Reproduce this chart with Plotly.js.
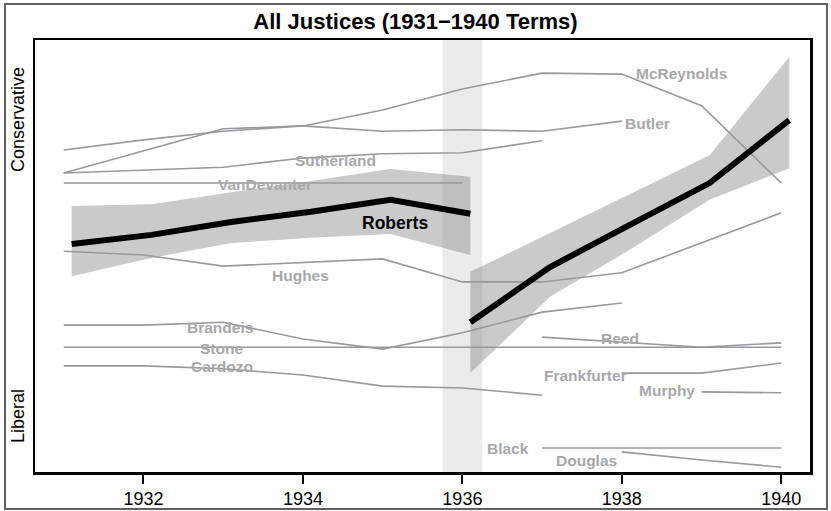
<!DOCTYPE html>
<html>
<head>
<meta charset="utf-8">
<script src="https://cdn.plot.ly/plotly-3.0.1.min.js"></script>
<style>html,body{margin:0;padding:0;background:#fff;}#chart{width:831px;height:511px;}</style>
</head>
<body>
<div id="chart"></div>
<script>
// ---- Data (ideal points) ----
var years = [1931, 1932, 1933, 1934, 1935, 1936, 1937, 1938, 1939, 1940];
var tickYears = [1932, 1934, 1936, 1938, 1940];

var mcreynoldsYears = [1931, 1932, 1933, 1934, 1935, 1936, 1937, 1938, 1939, 1940];
var mcreynolds = [1.73, 2.19, 2.65, 2.71, 3.04, 3.48, 3.81, 3.79, 3.13, 1.52];
var butlerYears = [1931, 1932, 1933, 1934, 1935, 1936, 1937, 1938];
var butler = [2.21, 2.42, 2.60, 2.71, 2.60, 2.63, 2.60, 2.81];
var sutherlandYears = [1931, 1932, 1933, 1934, 1935, 1936, 1937];
var sutherland = [1.73, 1.79, 1.85, 2.04, 2.13, 2.15, 2.40];
var vandevanterYears = [1931, 1932, 1933, 1934, 1935, 1936];
var vandevanter = [1.52, 1.52, 1.52, 1.52, 1.52, 1.52];
var hughesYears = [1931, 1932, 1933, 1934, 1935, 1936, 1937, 1938, 1939, 1940];
var hughes = [0.10, 0.02, -0.21, -0.13, -0.06, -0.54, -0.54, -0.35, 0.27, 0.90];
var brandeisYears = [1931, 1932, 1933, 1934, 1935, 1936, 1937, 1938];
var brandeis = [-1.44, -1.44, -1.38, -1.73, -1.94, -1.60, -1.17, -0.98];
var stoneYears = [1931, 1932, 1933, 1934, 1935, 1936, 1937, 1938, 1939, 1940];
var stone = [-1.90, -1.90, -1.90, -1.90, -1.90, -1.90, -1.90, -1.90, -1.90, -1.90];
var cardozoYears = [1931, 1932, 1933, 1934, 1935, 1936, 1937];
var cardozo = [-2.29, -2.29, -2.35, -2.48, -2.71, -2.75, -2.90];
var reedYears = [1937, 1938, 1939, 1940];
var reed = [-1.69, -1.79, -1.90, -1.81];
var frankfurterYears = [1938, 1939, 1940];
var frankfurter = [-2.44, -2.44, -2.23];
var murphyYears = [1939, 1940];
var murphy = [-2.83, -2.85];
var blackYears = [1937, 1938, 1939, 1940];
var black = [-4.0, -4.0, -4.0, -4.0];
var douglasYears = [1938, 1939, 1940];
var douglas = [-4.08, -4.25, -4.40];

// Roberts: two estimates (before / after the 1936 switch)
var robertsYearsA = [1931, 1932, 1933, 1934, 1935, 1936];
var robertsA = [0.25, 0.44, 0.71, 0.92, 1.17, 0.88];
var robertsUpperA = [1.04, 1.08, 1.33, 1.56, 1.81, 1.65];
var robertsLowerA = [-0.42, -0.04, 0.27, 0.38, 0.46, 0.02];
var robertsYearsB = [1936, 1937, 1938, 1939, 1940];
var robertsB = [-1.38, -0.23, 0.65, 1.52, 2.83];
var robertsUpperB = [-0.33, 0.48, 1.29, 2.10, 4.15];
var robertsLowerB = [-2.44, -0.85, 0.13, 1.17, 1.83];

var justiceNames = ["McReynolds", "Butler", "Sutherland", "VanDevanter", "Hughes", "Brandeis", "Stone", "Cardozo", "Reed", "Frankfurter", "Murphy", "Black", "Douglas"];
var justiceYears = [mcreynoldsYears, butlerYears, sutherlandYears, vandevanterYears, hughesYears, brandeisYears, stoneYears, cardozoYears, reedYears, frankfurterYears, murphyYears, blackYears, douglasYears];
var justiceValues = [mcreynolds, butler, sutherland, vandevanter, hughes, brandeis, stone, cardozo, reed, frankfurter, murphy, black, douglas];

// label anchor positions (year, ideal point)
var labelX = [1938.75, 1938.32, 1934.41, 1933.53, 1933.97, 1932.96, 1932.98, 1932.98, 1937.98, 1937.55, 1938.57, 1936.57, 1937.56];
var labelY = [3.81, 2.77, 2.0, 1.5, -0.40, -1.48, -1.92, -2.31, -1.71, -2.48, -2.81, -4.02, -4.25];

// ---- Styling ----
var FONT = "Liberation Sans, Arial, Helvetica, sans-serif";
var ROBERTS_SHIFT = 0.1;
var lineColor = "#98989d";
var labelColor = "#a7a7ab";
var bandColor = "rgba(128,128,128,0.42)";

function shift(arr, d) { return arr.map(function (v) { return v + d; }); }
function bandTrace(xs, up, lo) {
  return {
    x: xs.concat(xs.slice().reverse()),
    y: up.concat(lo.slice().reverse()),
    type: "scatter", mode: "lines", fill: "toself",
    fillcolor: bandColor, line: {width: 0}, hoverinfo: "skip", showlegend: false
  };
}

var traces = [];
var rxA = shift(robertsYearsA, ROBERTS_SHIFT);
var rxB = shift(robertsYearsB, ROBERTS_SHIFT);
traces.push(bandTrace(rxA, robertsUpperA, robertsLowerA));
traces.push(bandTrace(rxB, robertsUpperB, robertsLowerB));

for (var i = 0; i < justiceNames.length; i++) {
  traces.push({
    x: justiceYears[i], y: justiceValues[i], name: justiceNames[i],
    type: "scatter", mode: "lines",
    line: {color: lineColor, width: 1.6}, showlegend: false
  });
}
traces.push({x: rxA, y: robertsA, type: "scatter", mode: "lines", line: {color: "#000", width: 6}, showlegend: false});
traces.push({x: rxB, y: robertsB, type: "scatter", mode: "lines", line: {color: "#000", width: 6}, showlegend: false});

var annotations = [];
for (var j = 0; j < justiceNames.length; j++) {
  annotations.push({
    x: labelX[j], y: labelY[j], xref: "x", yref: "y", text: "<b>" + justiceNames[j] + "</b>",
    showarrow: false, font: {family: FONT, size: 15.5, color: labelColor}
  });
}
annotations.push({x: 1935.16, y: 0.69, xref: "x", yref: "y", text: "<b>Roberts</b>", showarrow: false,
  font: {family: FONT, size: 17.5, color: "#000"}});
annotations.push({x: -0.0219, y: 0.815, xref: "paper", yref: "paper", text: "Conservative", textangle: -90,
  showarrow: false, xanchor: "center", yanchor: "middle", font: {family: FONT, size: 18, color: "#000"}});
annotations.push({x: -0.0219, y: 0.1296, xref: "paper", yref: "paper", text: "Liberal", textangle: -90,
  showarrow: false, xanchor: "center", yanchor: "middle", font: {family: FONT, size: 18, color: "#000"}});

var layout = {
  width: 831, height: 511,
  margin: {l: 35, r: 21, t: 40, b: 39, pad: 0},
  paper_bgcolor: "#fff", plot_bgcolor: "#fff",
  showlegend: false,
  title: {text: "<b>All Justices (1931\u22121940 Terms)</b>", x: 0.5, xref: "container", xanchor: "center",
    y: 1 - 21 / 511, yref: "container", yanchor: "middle",
    font: {family: FONT, size: 22, color: "#000"}},
  xaxis: {
    range: [1930.64, 1940.36], tickvals: tickYears, ticktext: tickYears.map(String),
    ticks: "outside", ticklen: 9, tickwidth: 2, tickcolor: "#000",
    showline: true, mirror: true, linewidth: 2.5, linecolor: "#000",
    showgrid: false, zeroline: false,
    tickfont: {family: FONT, size: 18, color: "#000"}
  },
  yaxis: {
    range: [-4.5, 4.5], showticklabels: false, ticks: "",
    showline: true, mirror: true, linewidth: 2.5, linecolor: "#000",
    showgrid: false, zeroline: false
  },
  shapes: [
    {type: "rect", xref: "x", yref: "paper", x0: 1935.75, x1: 1936.25, y0: 0, y1: 1,
      fillcolor: "#ebebeb", line: {width: 0}, layer: "below"},
    {type: "rect", xref: "paper", yref: "paper", x0: -0.0387, x1: 1.0219, y0: -0.0856, y1: 1.0833,
      fillcolor: "rgba(0,0,0,0)", line: {color: "#606060", width: 2}, layer: "above"}
  ],
  annotations: annotations
};

Plotly.newPlot("chart", traces, layout, {staticPlot: true, displayModeBar: false});
</script>
</body>
</html>
